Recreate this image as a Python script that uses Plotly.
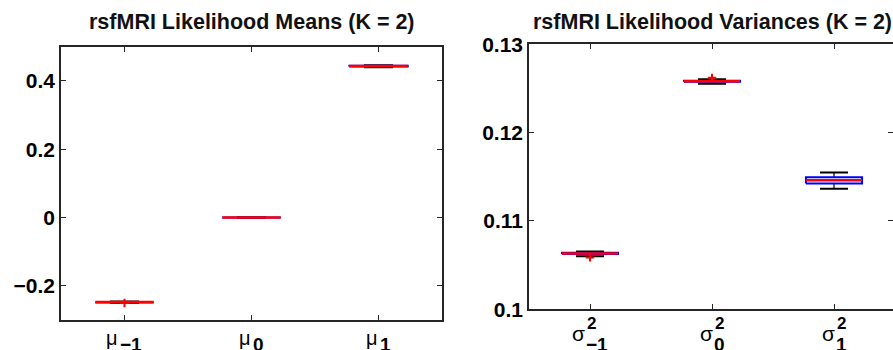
import plotly.graph_objects as go

# ---------------- data ----------------
mean_cats = [1, 2, 3]
mean_sub = ["\u22121", "0", "1"]
mean_q1 = [-0.2490, 0.0, 0.4425]
mean_med = [-0.2480, 0.0, 0.4440]
mean_q3 = [-0.2470, 0.0, 0.4450]
mean_lo = [-0.2500, 0.0, 0.4405]
mean_hi = [-0.2460, 0.0, 0.4460]
mean_out_x = [1]
mean_out_y = [-0.2505]

var_cats = [1, 2, 3]
var_sub = ["\u22121", "0", "1"]
var_q1 = [0.10625, 0.12578, 0.11423]
var_med = [0.10632, 0.12584, 0.11460]
var_q3 = [0.10640, 0.12590, 0.11494]
var_lo = [0.10600, 0.12555, 0.11366]
var_hi = [0.10655, 0.12605, 0.11548]
var_out_x = [1, 2]
var_out_y = [0.10587, 0.12622]

mean_yticks = [-0.2, 0, 0.2, 0.4]
mean_yticktext = ["\u22120.2", "0", "0.2", "0.4"]
var_yticks = [0.10, 0.11, 0.12, 0.13]
var_yticktext = ["0.1", "0.11", "0.12", "0.13"]

# ---------------- style ----------------
W, H = 893, 362
YOFF, YSC = 11.7, 0.94   # observed page->picture vertical mapping
BOXW = 0.46
FONT = "Liberation Sans"
FRAME = "#262626"


def px(x):
    return x / W


def Y(y):
    return (y - YOFF) / YSC


def py(y_page):
    return 1 - y_page / H


fig = go.Figure()


def add_boxes(xs, q1, med, q3, lo, hi, ox, oy, xa, ya):
    wx, wy, cx, cy, bx, by, mx, my = [], [], [], [], [], [], [], []
    for i, c in enumerate(xs):
        h = BOXW / 2
        wx += [c, c, None, c, c, None]
        wy += [lo[i], q1[i], None, q3[i], hi[i], None]
        cx += [c - h / 2, c + h / 2, None, c - h / 2, c + h / 2, None]
        cy += [lo[i], lo[i], None, hi[i], hi[i], None]
        bx += [c - h, c + h, c + h, c - h, c - h, None]
        by += [q1[i], q1[i], q3[i], q3[i], q1[i], None]
        mx += [c - h, c + h, None]
        my += [med[i], med[i], None]
    common = dict(xaxis=xa, yaxis=ya, mode="lines", showlegend=False, hoverinfo="skip")
    fig.add_trace(go.Scatter(x=wx, y=wy, line=dict(color="black", width=1.2, dash="dash"), **common))
    fig.add_trace(go.Scatter(x=cx, y=cy, line=dict(color="black", width=2), **common))
    fig.add_trace(go.Scatter(x=bx, y=by, line=dict(color="#0000ff", width=2), **common))
    fig.add_trace(go.Scatter(x=mx, y=my, line=dict(color="#ff0000", width=2.5), **common))
    fig.add_trace(go.Scatter(x=ox, y=oy, xaxis=xa, yaxis=ya, mode="markers", showlegend=False,
                             marker=dict(symbol="cross-thin", size=6, line=dict(color="#ff0000", width=2)),
                             hoverinfo="skip"))


add_boxes(mean_cats, mean_q1, mean_med, mean_q3, mean_lo, mean_hi, mean_out_x, mean_out_y, "x", "y")
add_boxes(var_cats, var_q1, var_med, var_q3, var_lo, var_hi, var_out_x, var_out_y, "x2", "y2")

axis_common = dict(showgrid=False, zeroline=False, showline=True, linecolor=FRAME, linewidth=1.5,
                   ticks="inside", ticklen=5, tickcolor=FRAME, tickwidth=1)
tickfont = dict(family=FONT, size=21, color="black", weight="bold")

x2_end = 0.5 + (W - 529) / 122.0

fig.update_layout(
    width=W, height=H, autosize=False,
    margin=dict(l=0, r=0, t=0, b=0),
    paper_bgcolor="white", plot_bgcolor="white",
    xaxis=dict(domain=[px(61), px(442)], range=[0.5, 3.5], tickvals=mean_cats, showticklabels=False,
               mirror="ticks", anchor="y", **axis_common),
    yaxis=dict(domain=[py(Y(320.7)), py(Y(46.7))], range=[-0.3, 0.5], tickvals=mean_yticks,
               ticktext=mean_yticktext, tickfont=tickfont, mirror="ticks", anchor="x", **axis_common),
    xaxis2=dict(domain=[px(529), 1.0], range=[0.5, x2_end], tickvals=var_cats, showticklabels=False,
                mirror="ticks", anchor="y2", **axis_common),
    yaxis2=dict(domain=[py(Y(310)), py(Y(44.3))], range=[0.1, 0.13], tickvals=var_yticks,
                ticktext=var_yticktext, tickfont=tickfont, mirror=False, anchor="x2", **axis_common),
    yaxis3=dict(overlaying="y2", anchor="x2", side="right", range=[0.1, 0.13], tickvals=var_yticks,
                showticklabels=False, showgrid=False, zeroline=False, showline=False,
                ticks="inside", ticklen=5, tickcolor=FRAME, tickwidth=1),
)
fig.add_trace(go.Scatter(x=[None], y=[None], xaxis="x2", yaxis="y3", showlegend=False, hoverinfo="skip"))

annotations = []
TS = 21.5
annotations.append(dict(text="<b>rsfMRI Likelihood Means (K = 2)</b>", xref="paper", yref="paper",
                        x=px((61 + 442) / 2), y=py(Y(28.0) - 0.905 * TS), xanchor="center", yanchor="top",
                        showarrow=False, font=dict(family=FONT, size=TS, color="#111"), borderpad=0, borderwidth=0))
annotations.append(dict(text="<b>rsfMRI Likelihood Variances (K = 2)</b>", xref="paper", yref="paper",
                        x=px((529 + 895) / 2), y=py(Y(27.5) - 0.905 * TS), xanchor="center", yanchor="top",
                        showarrow=False, font=dict(family=FONT, size=TS, color="#111"), borderpad=0, borderwidth=0))

CW = {"\u2212": 11.0, "0": 10.5, "1": 10.5, "2": 9.5}


def txtw(s, scale=1.0):
    return sum(CW.get(ch, 10.0) for ch in s) * scale


def ann(text, xref, x, xshift, baseline, size, bold, xanchor):
    return dict(text=("<b>%s</b>" % text) if bold else text, xref=xref, yref="paper", x=x,
                y=py(Y(baseline) - 0.905 * size), xshift=xshift, xanchor=xanchor, yanchor="top",
                showarrow=False, borderpad=0, borderwidth=0,
                font=dict(family=FONT, size=size, color="black"))


for c, s in zip(mean_cats, mean_sub):
    wb = 11.0
    ws = txtw(s)
    total = wb + 2 + ws
    left = -total / 2
    annotations.append(ann("\u03bc", "x", c, left + wb, 345, 20, False, "right"))
    annotations.append(ann(s, "x", c, left + wb + 2, 351, 19, True, "left"))

for c, s in zip(var_cats, var_sub):
    wb = 12.5
    ws = max(txtw(s), txtw("2", 16 / 18))
    total = wb + 1 + ws
    left = -total / 2
    annotations.append(ann("\u03c3", "x2", c, left + wb, 341, 21, False, "right"))
    annotations.append(ann("2", "x2", c, left + wb + 2, 329, 17, True, "left"))
    annotations.append(ann(s, "x2", c, left + wb + 1, 351, 19, True, "left"))

fig.update_layout(annotations=annotations)

fig.write_html("out.html", config={"displayModeBar": False},
               post_script="document.body.style.margin='0';document.documentElement.style.overflow='hidden';document.body.style.overflow='hidden';")
